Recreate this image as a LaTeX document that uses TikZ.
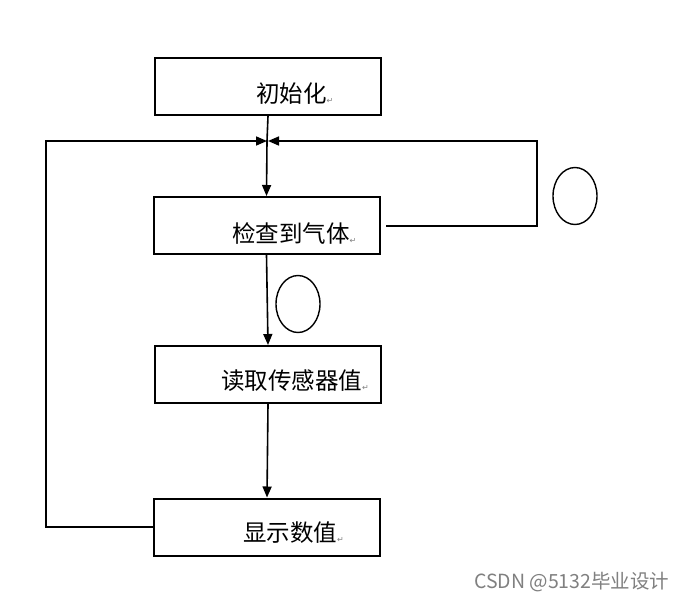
\documentclass[tikz,border=0pt]{standalone}
\usepackage{fontspec}
\newfontfamily\cjk{Noto Sans CJK SC}
\newfontfamily\dejavu{DejaVu Sans}
\usetikzlibrary{arrows.meta,shapes.geometric}
\newcommand{\pmark}{{\dejavu\fontsize{8}{8}\selectfont\color{gray}\raisebox{-1pt}{↵}}}
\tikzset{
  boxnode/.style={draw=black, line width=2pt, minimum width=226pt, minimum height=57pt, inner sep=0pt},
  txt/.style={font=\cjk\fontsize{23.5}{28}\selectfont, inner sep=0pt, anchor=base west},
  conn/.style={line width=1.6pt, draw=black},
  arr/.style={conn, -{Triangle[length=11pt,width=9pt]}},
  loopmark/.style={draw=black, line width=1.4pt, ellipse, minimum width=44pt, minimum height=57pt}
}
\begin{document}
\begin{tikzpicture}[x=1pt,y=-1pt]
\useasboundingbox (0,0) rectangle (689,600);
\fill[white] (0,0) rectangle (689,600);
\node[boxnode] (b1) at (268,86.5) {};
\node[boxnode] (b2) at (266.5,225.5) {};
\node[boxnode] (b3) at (268,374.5) {};
\node[boxnode] (b4) at (267,527) {};
\node[txt] (t1) at (256,102) {初始化\pmark};
\node[txt] (t2) at (232,242) {检查到气体\pmark};
\node[txt] (t3) at (221,389) {读取传感器值\pmark};
\node[txt] (t4) at (243,541) {显示数值\pmark};
\coordinate (j) at (267,141);
\coordinate (ll) at (46,141);
\coordinate (lb) at (46,527);
\coordinate (rs) at (386,226);
\coordinate (rb) at (537,226);
\coordinate (rt) at (537,141);
\draw[conn] (b1.south) -- (j);
\draw[arr] (j) -- (b2.north);
\draw[arr] (b2.south) -- (b3.north);
\draw[arr] (b3.south) -- (b4.north);
\draw[arr] (b4.west) -- (lb) -- (ll) -- (j);
\draw[arr] (rs) -- (rb) -- (rt) -- ([xshift=1pt]j);
\node[loopmark] (e1) at (298,304) {};
\node[loopmark] (e2) at (575,196) {};
\node[font=\cjk\fontsize{19.5}{22}\selectfont, text=gray, anchor=base west, inner sep=0pt] (wm) at (474,588) {CSDN @5132毕业设计};
\end{tikzpicture}
\end{document}
